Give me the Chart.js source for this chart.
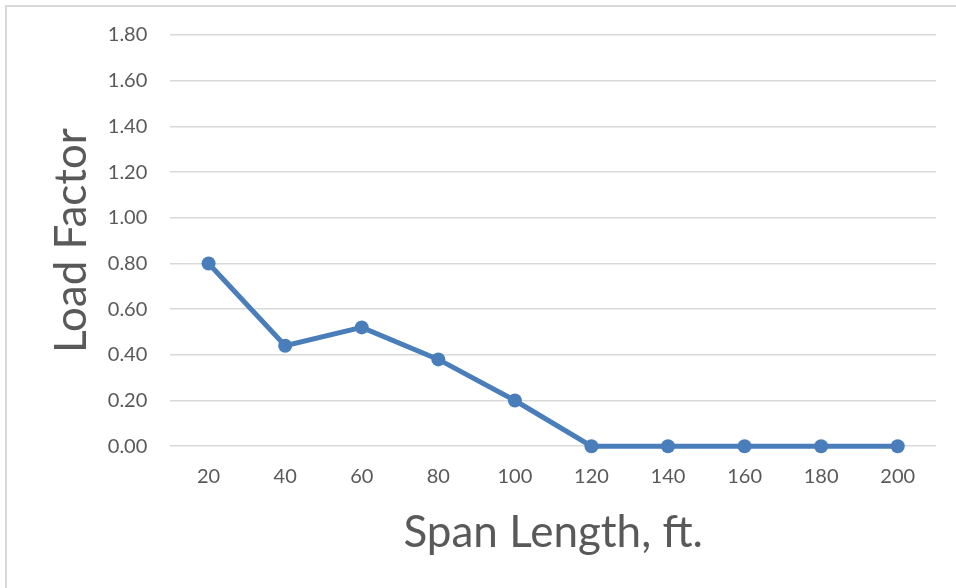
<!DOCTYPE html>
<html><head><meta charset="utf-8">
<script src="https://cdn.jsdelivr.net/npm/chart.js@4/dist/chart.umd.min.js"></script>
<style>html,body{margin:0;padding:0;background:#fff}#wrap{width:956px;height:588px;position:relative}</style>
</head><body><div id="wrap"><canvas id="c" width="956" height="588"></canvas></div>
<script>
const spanLengths = ['20','40','60','80','100','120','140','160','180','200'];
const loadFactor = [0.80, 0.44, 0.52, 0.38, 0.20, 0.00, 0.00, 0.00, 0.00, 0.00];
const yTicks = [0, 0.2, 0.4, 0.6, 0.8, 1.0, 1.2, 1.4, 1.6, 1.8];
const xTitle = 'Span Length, ft.';
const yTitle = 'Load Factor';

const borderPlugin = {
  id: 'outerBorder',
  beforeDraw(chart) {
    const ctx = chart.ctx;
    ctx.save();
    ctx.fillStyle = '#fff';
    ctx.fillRect(0, 0, chart.width, chart.height);
    ctx.strokeStyle = '#d9d9d9';
    ctx.lineWidth = 2;
    ctx.beginPath();
    ctx.moveTo(6, chart.height + 2);
    ctx.lineTo(6, 6);
    ctx.lineTo(chart.width + 2, 6);
    ctx.stroke();
    ctx.restore();
  }
};

const FONT = "Lato, 'Open Sans', sans-serif";
new Chart(document.getElementById('c'), {
  type: 'line',
  data: {
    labels: spanLengths,
    datasets: [{
      data: loadFactor,
      borderColor: '#4a7ebb',
      backgroundColor: '#4a7ebb',
      borderWidth: 5,
      pointRadius: 7,
      pointHoverRadius: 7,
      pointBorderWidth: 0,
      tension: 0,
      clip: false
    }]
  },
  options: {
    responsive: false,
    animation: false,
    devicePixelRatio: 1,
    layout: { padding: { left: 45, right: 20, top: 21, bottom: 12 } },
    plugins: { legend: { display: false }, tooltip: { enabled: false } },
    scales: {
      x: {
        offset: true,
        grid: { display: false, drawTicks: false },
        border: { display: false },
        ticks: { color: '#595959', font: { family: FONT, size: 20 }, padding: 18 },
        title: { display: true, text: xTitle, color: '#595959', font: { family: FONT, size: 44 }, padding: { top: 0, bottom: 17 } }
      },
      y: {
        min: 0, max: 1.8,
        afterBuildTicks(axis) { axis.ticks = yTicks.map(v => ({ value: v })); },
        grid: { color: '#d9d9d9', lineWidth: 1.5, drawTicks: false },
        border: { display: false },
        ticks: { color: '#595959', font: { family: FONT, size: 20 }, padding: 23, callback: v => Number(v).toFixed(2) },
        title: { display: true, text: yTitle, color: '#595959', font: { family: FONT, size: 44 }, padding: { top: 0, bottom: -13 } }
      }
    }
  },
  plugins: [borderPlugin]
});
</script></body></html>
